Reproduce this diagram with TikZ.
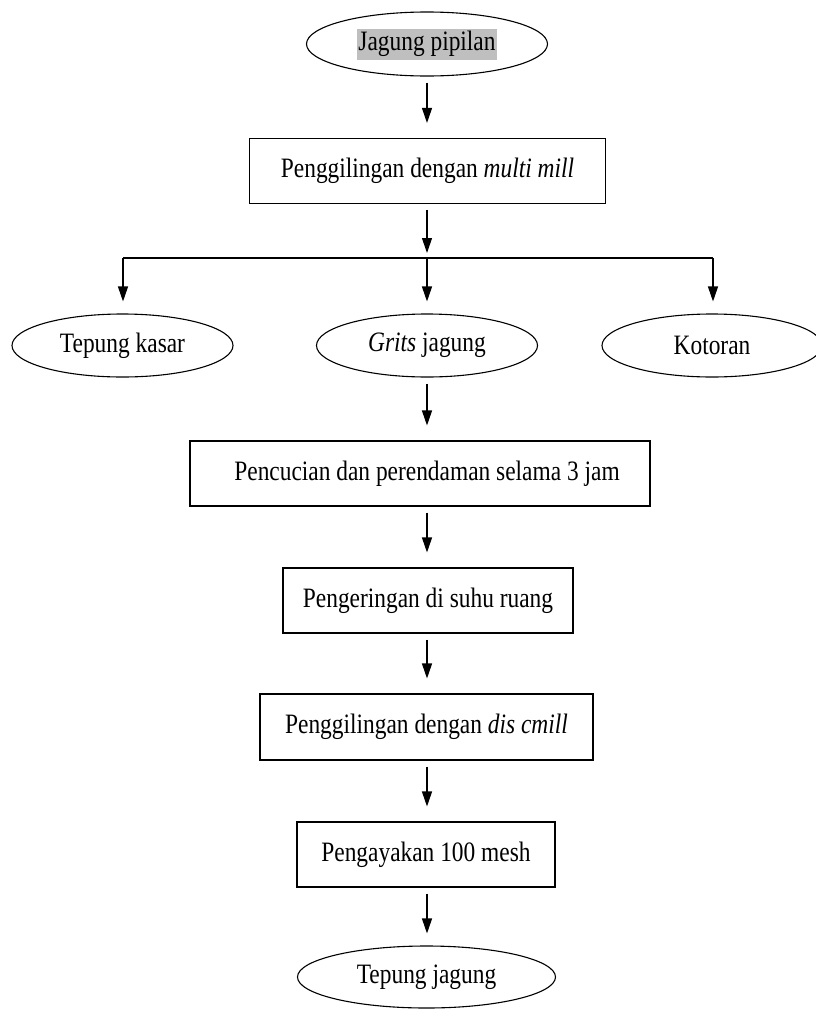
\documentclass[tikz,border=0pt]{standalone}
\usepackage{fontspec}
\usepackage{graphicx}
\setmainfont{Liberation Serif}
\usetikzlibrary{shapes.geometric,arrows.meta}
\definecolor{hl}{RGB}{191,191,191}
\newcommand{\tallt}[1]{\scalebox{1}[1.2]{#1}}
\begin{document}
\begin{tikzpicture}[x=1pt,y=-1pt,
  every node/.style={font=\fontsize{23.4}{28}\selectfont, line width=1.1pt},
  oval/.style={draw, ellipse, inner sep=0pt},
  stepbox/.style={draw, rectangle, inner sep=0pt},
  flow/.style={line width=1.1pt, -{Triangle[width=10pt,length=15pt]}, shorten <=6pt, shorten >=15pt},
  link/.style={line width=1.1pt}]
\useasboundingbox (0,0) rectangle (815,1010);
\fill[white] (0,0) rectangle (815,1010);

\node[oval, minimum width=241pt, minimum height=64pt] (start) at (427,44) {};
\node[fill=hl, inner xsep=1pt, inner ysep=0pt, minimum height=31pt, line width=0pt] (starttext) at (start.center) {\tallt{Jagung pipilan}};

\node[stepbox, minimum width=356pt, minimum height=65pt] (b1) at (427.5,171) {\tallt{Penggilingan dengan \textit{multi mill}}};

\coordinate (split) at (427,258);
\coordinate (sl) at (123,258);
\coordinate (sr) at (713,258);

\node[oval, minimum width=221pt, minimum height=63pt] (tk) at (122.5,345.5) {\tallt{Tepung kasar}};
\node[oval, minimum width=221pt, minimum height=63pt] (gj) at (427,345.5) {\tallt{\textit{Grits} jagung}};
\node[oval, minimum width=220pt, minimum height=63pt] (kt) at (712,345.5) {\tallt{Kotoran}};

\node[stepbox, minimum width=460pt, minimum height=65pt] (b2) at (420,473.5) {};
\node (b2text) at (427,473.5) {\tallt{Pencucian dan perendaman selama 3 jam}};
\node[stepbox, minimum width=290pt, minimum height=65pt] (b3) at (428,600.5) {\tallt{Pengeringan di suhu ruang}};
\node[stepbox, minimum width=333pt, minimum height=66pt] (b4) at (426.5,727) {\tallt{Penggilingan dengan \textit{dis cmill}}};
\node[stepbox, minimum width=258pt, minimum height=65pt] (b5) at (426,854.5) {\tallt{Pengayakan 100 mesh}};
\node[oval, minimum width=258pt, minimum height=62pt] (end) at (426.5,977) {\tallt{Tepung jagung}};

\draw[flow] (start.south) -- (b1.north -| start.south);
\draw[flow, shorten >=5pt] (b1.south -| split) -- (split);
\draw[link] (sl) -- (sr);
\draw[flow, shorten <=0pt, shorten >=12pt] (sl) -- (sl |- tk.north);
\draw[flow, shorten <=0pt, shorten >=12pt] (split) -- (gj.north);
\draw[flow, shorten <=0pt, shorten >=12pt] (sr) -- (sr |- kt.north);
\draw[flow] (gj.south) -- (b2.north -| gj.south);
\draw[flow] (b2.south -| gj.south) -- (b3.north -| gj.south);
\draw[flow] (b3.south -| gj.south) -- (b4.north -| gj.south);
\draw[flow] (b4.south -| gj.south) -- (b5.north -| gj.south);
\draw[flow, shorten >=12pt] (b5.south -| gj.south) -- (end.north -| gj.south);
\end{tikzpicture}
\end{document}
